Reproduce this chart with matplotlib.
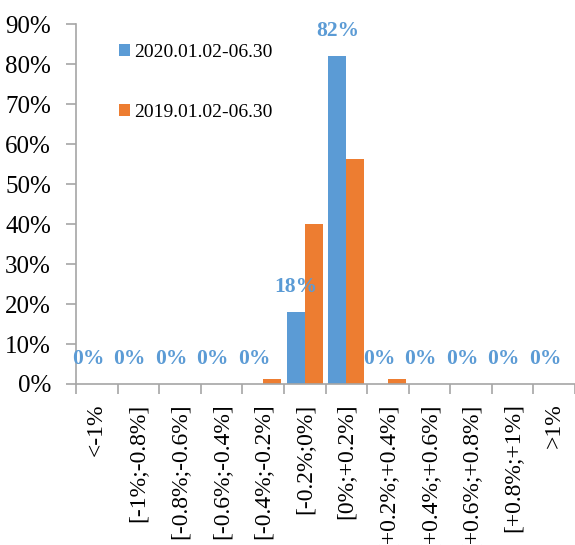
import matplotlib
matplotlib.use("Agg")
import matplotlib.pyplot as plt
import numpy as np

categories = ["<-1%", "[-1%;-0.8%]", "[-0.8%;-0.6%]", "[-0.6%;-0.4%]", "[-0.4%;-0.2%]",
              "[-0.2%;0%]", "[0%;+0.2%]", "[+0.2%;+0.4%]", "[+0.4%;+0.6%]",
              "[+0.6%;+0.8%]", "[+0.8%;+1%]", ">1%"]
series_2020 = [0, 0, 0, 0, 0, 18, 82, 0, 0, 0, 0, 0]
series_2019 = [0, 0, 0, 0, 1.3, 40, 56.3, 1.3, 0, 0, 0, 0]
label_2020 = "2020.01.02-06.30"
label_2019 = "2019.01.02-06.30"
yticks = [0, 10, 20, 30, 40, 50, 60, 70, 80, 90]

plt.rcParams['font.family'] = ['Liberation Serif', 'DejaVu Serif']

W, H = 575, 545
fig = plt.figure(figsize=(W / 100, H / 100), dpi=100)
ax = fig.add_axes([76 / W, (H - 384) / H, (W - 76) / W, (384 - 24.3) / H])

blue = "#5B9BD5"
orange = "#ED7D31"
x = np.arange(len(categories))
w = 0.43
ax.bar(x - w / 2, series_2020, width=w, color=blue, label=label_2020, zorder=2)
ax.bar(x + w / 2, series_2019, width=w, color=orange, label=label_2019, zorder=2)

for xi, v in zip(x - w / 2, series_2020):
    ax.annotate(f"{v:.0f}%", xy=(xi, v), xytext=(0, 18), textcoords="offset points",
                ha="center", va="center", color=blue, fontsize=15.5, fontweight="bold",
                zorder=3)

ax.set_xlim(-0.5, len(categories) - 0.5)
ax.set_ylim(0, 90)
ax.set_yticks(yticks)
ax.set_yticklabels([f"{t}%" for t in yticks])
ax.set_xticks(np.arange(len(categories) + 1) - 0.5)
ax.set_xticklabels([])
ax.set_xticks(x, minor=True)
ax.set_xticklabels(categories, minor=True, rotation=90, va="top", ha="center")

for s in ["top", "right"]:
    ax.spines[s].set_visible(False)
for s in ["left", "bottom"]:
    ax.spines[s].set_color("#A6A6A6")
    ax.spines[s].set_linewidth(1.2)

ax.tick_params(axis="y", which="major", length=7, width=1.2, color="#A6A6A6",
               labelsize=18, pad=11)
ax.tick_params(axis="x", which="major", length=7, width=1.2, color="#A6A6A6")
ax.tick_params(axis="x", which="minor", length=0, labelsize=17, pad=14)

ax.legend(loc="upper left", bbox_to_anchor=(119 / W, 1 - 44 / H),
          bbox_transform=fig.transFigure, frameon=False, fontsize=14,
          handlelength=0.55, handleheight=0.55, handletextpad=0.25,
          labelspacing=2.2, borderpad=0, borderaxespad=0)

fig.savefig("out.png", dpi=100)
